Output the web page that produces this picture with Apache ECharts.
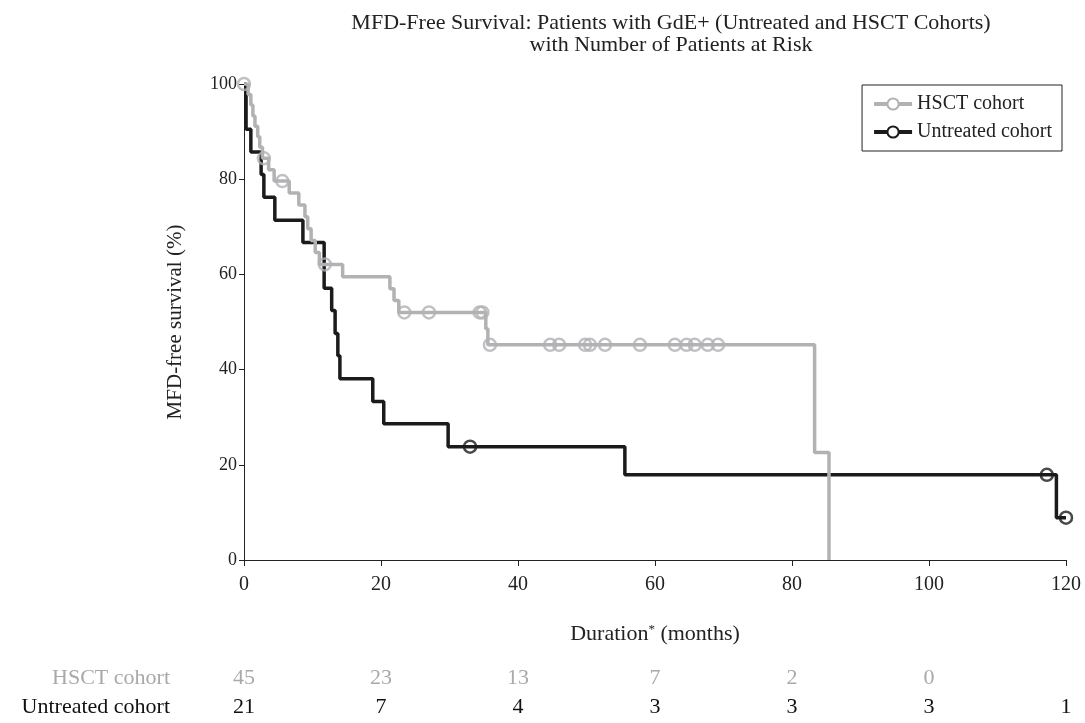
<!DOCTYPE html>
<html>
<head>
<meta charset="utf-8">
<script src="https://cdn.jsdelivr.net/npm/echarts@6/dist/echarts.min.js"></script>
<style>html,body{margin:0;padding:0;background:#fff}#c{width:1085px;height:723px}</style>
</head>
<body>
<div id="c"></div>
<script>
// ---- Data ----
var xTicks = [0, 20, 40, 60, 80, 100, 120];
var yTicks = [0, 20, 40, 60, 80, 100];

var hsctTimes = [0, 0.6, 1.0, 1.3, 1.6, 2.0, 2.3, 2.7, 3.6, 4.4, 6.6, 8.0, 8.9, 9.3, 9.8, 10.4, 11.0, 14.4, 21.3, 21.9, 22.6, 35.3, 35.6, 83.3, 85.4];
var hsctSurv  = [100, 97.8, 95.6, 93.3, 91.1, 88.9, 86.7, 84.4, 82.0, 79.6, 77.1, 74.6, 72.1, 69.6, 67.1, 64.6, 62.1, 59.5, 57.0, 54.5, 52.0, 48.6, 45.2, 22.6, 0];
var hsctCensorTimes = [0, 2.9, 5.6, 11.8, 23.4, 27.0, 34.4, 34.8, 35.9, 44.7, 46.0, 49.8, 50.5, 52.7, 57.8, 62.9, 64.6, 65.8, 67.7, 69.2];
var hsctCensorSurv  = [100, 84.4, 79.6, 62.1, 52.0, 52.0, 52.0, 52.0, 45.2, 45.2, 45.2, 45.2, 45.2, 45.2, 45.2, 45.2, 45.2, 45.2, 45.2, 45.2];

var untrTimes = [0, 0.3, 1.0, 2.5, 2.9, 4.5, 8.6, 11.7, 12.8, 13.3, 13.7, 14.0, 18.8, 20.4, 29.8, 55.6, 118.6];
var untrSurv  = [100, 90.5, 85.7, 81.0, 76.2, 71.4, 66.7, 57.1, 52.4, 47.6, 42.9, 38.1, 33.3, 28.6, 23.8, 17.9, 8.9];
var untrCensorTimes = [33.0, 117.2, 120];
var untrCensorSurv  = [23.8, 17.9, 8.9];

var hsctAtRisk = [45, 23, 13, 7, 2, 0];
var untrAtRisk = [21, 7, 4, 3, 3, 3, 1];

var GREY = '#b1b2b4', BLACK = '#1b1b1b';
var FONT = 'Liberation Serif';

function zip(a, b) { return a.map(function (v, i) { return [v, b[i]]; }); }
function lastPoint(t, s, end) { var d = zip(t, s); d.push([end, s[s.length - 1]]); return d; }

var chart = echarts.init(document.getElementById('c'));

var baseX = {
  type: 'value', min: 0, max: 120, interval: 20, gridIndex: 0, position: 'bottom'
};

chart.setOption({
  animation: false,
  backgroundColor: '#fff',
  textStyle: { fontFamily: FONT },
  title: {
    text: 'MFD-Free Survival: Patients with GdE+ (Untreated and HSCT Cohorts)\nwith Number of Patients at Risk',
    left: 666, top: 7, textAlign: 'center',
    textStyle: { fontFamily: FONT, fontSize: 22, fontWeight: 'normal', color: '#222', lineHeight: 22 }
  },
  legend: {
    right: 23, top: 85, orient: 'vertical',
    backgroundColor: '#fff', borderColor: '#222', borderWidth: 1,
    padding: [9, 10, 9, 10], itemGap: 8, itemWidth: 38, itemHeight: 14,
    textStyle: { fontFamily: FONT, fontSize: 20, color: '#222' },
    lineStyle: { width: 4 },
    itemStyle: { borderWidth: 3 },
    data: ['HSCT cohort', 'Untreated cohort']
  },
  grid: { left: 244, right: 19, top: 84, bottom: 163, containLabel: false },
  xAxis: [
    Object.assign({}, baseX, {
      name: '{a|Duration}{s|*}{a| (months)}', nameLocation: 'middle', nameGap: 63,
      nameTextStyle: { rich: {
        a: { fontFamily: FONT, fontSize: 22, color: '#222' },
        s: { fontFamily: FONT, fontSize: 13, color: '#222', verticalAlign: 'top', padding: [0, 0, 10, 0] }
      } },
      axisLine: { lineStyle: { color: '#222', width: 1 } },
      axisTick: { show: true, length: 6, lineStyle: { color: '#222' } },
      axisLabel: { fontFamily: FONT, fontSize: 20, color: '#222', margin: 15 },
      splitLine: { show: false }
    }),
    Object.assign({}, baseX, {
      offset: 107, name: 'HSCT cohort', nameLocation: 'start', nameGap: 74,
      nameTextStyle: { fontFamily: FONT, fontSize: 22, color: '#a9a9a9', verticalAlign: 'top', align: 'right' },
      axisLine: { show: false }, axisTick: { show: false }, splitLine: { show: false },
      axisLabel: { fontFamily: FONT, fontSize: 22, color: '#a9a9a9', margin: 0,
        formatter: function (v) { var i = Math.round(v / 20); return hsctAtRisk[i] === undefined ? '' : String(hsctAtRisk[i]); } }
    }),
    Object.assign({}, baseX, {
      offset: 136, name: 'Untreated cohort', nameLocation: 'start', nameGap: 74,
      nameTextStyle: { fontFamily: FONT, fontSize: 22, color: '#111', verticalAlign: 'top', align: 'right' },
      axisLine: { show: false }, axisTick: { show: false }, splitLine: { show: false },
      axisLabel: { fontFamily: FONT, fontSize: 22, color: '#111', margin: 0,
        formatter: function (v) { var i = Math.round(v / 20); return untrAtRisk[i] === undefined ? '' : String(untrAtRisk[i]); } }
    })
  ],
  yAxis: {
    type: 'value', min: 0, max: 100, interval: 20,
    name: 'MFD-free survival (%)', nameLocation: 'middle', nameGap: 58,
    nameTextStyle: { fontFamily: FONT, fontSize: 21, color: '#222' },
    axisLine: { show: true, lineStyle: { color: '#222', width: 1 } },
    axisTick: { show: true, length: 5, lineStyle: { color: '#222' } },
    axisLabel: { fontFamily: FONT, fontSize: 18, color: '#222', margin: 7 },
    splitLine: { show: false }
  },
  series: [
    {
      name: 'HSCT cohort', type: 'line', step: 'end', xAxisIndex: 0,
      data: zip(hsctTimes, hsctSurv),
      showSymbol: false, symbol: 'emptyCircle', symbolSize: 12,
      lineStyle: { color: GREY, width: 3.5 }, itemStyle: { color: GREY, borderWidth: 2.5 },
      z: 2
    },
    {
      name: 'HSCT cohort', type: 'scatter', xAxisIndex: 0,
      data: zip(hsctCensorTimes, hsctCensorSurv),
      symbol: 'circle', symbolSize: 12,
      itemStyle: { color: 'rgba(0,0,0,0)', borderColor: GREY, borderWidth: 2.5 },
      z: 3
    },
    {
      name: 'Untreated cohort', type: 'line', step: 'end', xAxisIndex: 0,
      data: lastPoint(untrTimes, untrSurv, 120),
      showSymbol: false, symbol: 'emptyCircle', symbolSize: 12,
      lineStyle: { color: BLACK, width: 3.5 }, itemStyle: { color: BLACK, borderWidth: 2.5 },
      z: 1
    },
    {
      name: 'Untreated cohort', type: 'scatter', xAxisIndex: 0,
      data: zip(untrCensorTimes, untrCensorSurv),
      symbol: 'circle', symbolSize: 12,
      itemStyle: { color: 'rgba(0,0,0,0)', borderColor: BLACK, borderWidth: 2.5 },
      z: 3
    }
  ]
});
</script>
</body>
</html>
